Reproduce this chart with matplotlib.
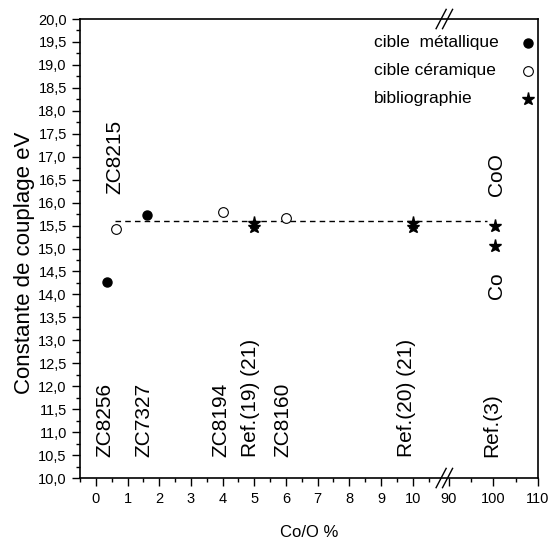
import numpy as np
import matplotlib
matplotlib.use("Agg")
import matplotlib.pyplot as plt
from matplotlib.ticker import FixedLocator, FuncFormatter
from matplotlib.lines import Line2D

plt.rcParams["font.family"] = ["Liberation Sans", "DejaVu Sans"]

# Data
metal_x = [0.35, 1.6]
metal_y = [14.27, 15.72]
ceram_x = [0.65, 4.0, 6.0]
ceram_y = [15.42, 15.79, 15.66]
biblio_x = [5.0, 5.0, 10.0, 10.0, 100.3, 100.3]
biblio_y = [15.55, 15.46, 15.55, 15.47, 15.50, 15.05]
mean_x = [0.6, 98.6]
mean_y = [15.6, 15.6]

bottom_labels = ["ZC8256", "ZC7327", "ZC8194", "Ref.(19) (21)", "ZC8160", "Ref.(20) (21)", "Ref.(3)"]
bottom_label_x = [0.27, 1.5, 3.94, 4.89, 5.9, 9.8, 99.7]
top_labels = ["ZC8215", "CoO", "Co"]
top_label_x = [0.6, 100.6, 100.6]
top_label_y = [16.19, 16.14, 13.9]

legend_labels = ["cible  métallique", "cible céramique", "bibliographie"]

x_major = [0, 1, 2, 3, 4, 5, 6, 7, 8, 9, 10, 90, 100, 110]
x_minor = list(np.arange(-0.5, 10.6, 0.5)) + [95, 105]

# broken x axis: 0..11 linear, then 89..110 compressed
BREAK_LO, BREAK_HI, K = 11.0, 89.0, 0.1408


def fwd(x):
    x = np.asarray(x, dtype=float)
    return np.where(x <= BREAK_LO, x, BREAK_LO + (x - BREAK_HI) * K)


def inv(y):
    y = np.asarray(y, dtype=float)
    return np.where(y <= BREAK_LO, y, BREAK_HI + (y - BREAK_LO) / K)


fig = plt.figure(figsize=(5.53, 5.48), dpi=100)
ax = fig.add_axes([0.1447, 0.1277, 0.9729 - 0.1447, 0.9653 - 0.1277])
ax.set_xscale("function", functions=(fwd, inv))
ax.set_xlim(-0.5, 110)
ax.set_ylim(10, 20)

ax.plot(mean_x, mean_y, "--", color="black", lw=1.0, dashes=(4, 3))
ax.plot(metal_x, metal_y, "o", color="black", ms=6.5, ls="none")
ax.plot(ceram_x, ceram_y, "o", mfc="white", mec="black", mew=0.8, ms=7, ls="none")
ax.plot(biblio_x, biblio_y, "*", color="black", ms=9.5, ls="none")

for s, x in zip(bottom_labels, bottom_label_x):
    ax.text(x, 10.45, s, rotation=90, ha="center", va="bottom", fontsize=15)
for s, x, y in zip(top_labels, top_label_x, top_label_y):
    ax.text(x, y, s, rotation=90, ha="center", va="bottom", fontsize=15)

ax.xaxis.set_major_locator(FixedLocator(x_major))
ax.xaxis.set_minor_locator(FixedLocator(x_minor))
ax.xaxis.set_major_formatter(FuncFormatter(lambda v, p: f"{v:.0f}"))
ax.yaxis.set_major_locator(FixedLocator(np.arange(10, 20.01, 0.5)))
ax.yaxis.set_minor_locator(FixedLocator(np.arange(10, 20.01, 0.25)))
ax.yaxis.set_major_formatter(FuncFormatter(lambda v, p: f"{v:.1f}".replace(".", ",")))
ax.tick_params(which="major", direction="out", length=6, width=1, labelsize=10.5)
ax.tick_params(which="minor", direction="out", length=3, width=1)
ax.tick_params(axis="x", pad=4)
for sp in ax.spines.values():
    sp.set_linewidth(1.2)

ax.set_xlabel("Co/O %", fontsize=12, labelpad=14)
ax.set_ylabel("Constante de couplage eV", fontsize=16)
ax.yaxis.set_label_coords(-0.098, 0.468)

# break marks on the x axis
xb = (fwd(BREAK_LO) + 0.5) / (fwd(110) + 0.5)
for dx in (-0.007, 0.007):
    for yb in (0.0, 1.0):
        ax.add_line(Line2D([xb + dx - 0.011, xb + dx + 0.011], [yb - 0.021, yb + 0.021],
                           transform=ax.transAxes, color="black", lw=1, clip_on=False))

# legend: text left-aligned, markers on the right
leg_styles = [dict(marker="o", color="black", ms=6.5),
              dict(marker="o", mfc="white", mec="black", mew=0.8, ms=7),
              dict(marker="*", color="black", ms=9.5)]
for i, (lab, st) in enumerate(zip(legend_labels, leg_styles)):
    yy = 0.948 - i * 0.061
    ax.text(0.642, yy, lab, transform=ax.transAxes, ha="left", va="center", fontsize=12.5)
    ax.plot([0.978], [yy], transform=ax.transAxes, ls="none", **st)

fig.savefig("out.png", dpi=100)
